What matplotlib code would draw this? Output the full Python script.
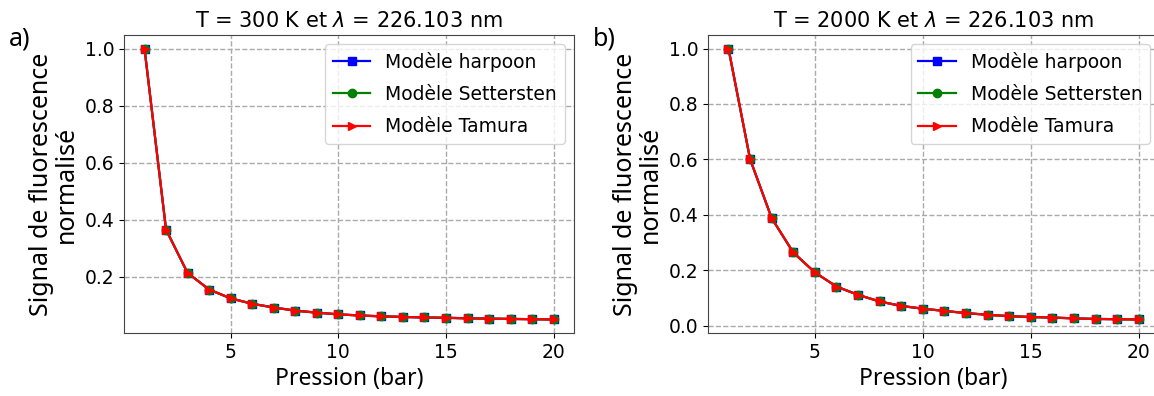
import numpy as np
import matplotlib
matplotlib.use("Agg")
import matplotlib.pyplot as plt

# pressure (bar)
pression = [1, 2, 3, 4, 5, 6, 7, 8, 9, 10, 11, 12, 13, 14, 15, 16, 17, 18, 19, 20]

# normalised fluorescence signal, T = 300 K
harpoon_300 = [1.0, 0.366, 0.214, 0.156, 0.125, 0.106, 0.093, 0.082, 0.075, 0.069,
               0.065, 0.062, 0.060, 0.058, 0.057, 0.055, 0.054, 0.053, 0.052, 0.051]
settersten_300 = [1.0, 0.366, 0.214, 0.156, 0.125, 0.106, 0.093, 0.082, 0.075, 0.069,
                  0.065, 0.062, 0.060, 0.058, 0.057, 0.055, 0.054, 0.053, 0.052, 0.051]
tamura_300 = [1.0, 0.366, 0.214, 0.156, 0.125, 0.106, 0.093, 0.082, 0.075, 0.069,
              0.065, 0.062, 0.060, 0.058, 0.057, 0.055, 0.054, 0.053, 0.052, 0.051]

# normalised fluorescence signal, T = 2000 K
harpoon_2000 = [1.0, 0.601, 0.388, 0.264, 0.192, 0.141, 0.111, 0.087, 0.071, 0.061,
                0.053, 0.045, 0.039, 0.034, 0.031, 0.029, 0.026, 0.024, 0.023, 0.022]
settersten_2000 = [1.0, 0.601, 0.388, 0.264, 0.192, 0.141, 0.111, 0.087, 0.071, 0.061,
                   0.053, 0.045, 0.039, 0.034, 0.031, 0.029, 0.026, 0.024, 0.023, 0.022]
tamura_2000 = [1.0, 0.601, 0.388, 0.264, 0.192, 0.141, 0.111, 0.087, 0.071, 0.061,
               0.053, 0.045, 0.039, 0.034, 0.031, 0.029, 0.026, 0.024, 0.023, 0.022]

titles = [r"T = 300 K et $\lambda$ = 226.103 nm", r"T = 2000 K et $\lambda$ = 226.103 nm"]
letters = ["a)", "b)"]
panels = [(harpoon_300, settersten_300, tamura_300),
          (harpoon_2000, settersten_2000, tamura_2000)]

fig = plt.figure(figsize=(11.54, 3.96), dpi=100)
positions = [[0.1075, 0.159, 0.390, 0.7525], [0.6135, 0.159, 0.391, 0.7525]]
letter_x = [0.008, 0.514]

for i in range(2):
    ax = fig.add_axes(positions[i])
    h, s, t = panels[i]
    ax.plot(pression, h, "-s", color="blue", lw=1.6, ms=6, label="Modèle harpoon")
    ax.plot(pression, s, "-o", color="green", lw=1.6, ms=6, label="Modèle Settersten")
    ax.plot(pression, t, "->", color="red", lw=1.6, ms=6, label="Modèle Tamura")
    ax.grid(True, linestyle="--", color="#aaaaaa", lw=1)
    ax.set_xticks([5, 10, 15, 20])
    ax.tick_params(labelsize=13.5)
    for sp in ax.spines.values():
        sp.set_color("#444444")
    ax.set_title(titles[i], fontsize=15)
    ax.set_xlabel("Pression (bar)", fontsize=16.5, family="Noto Sans")
    ax.set_ylabel("Signal de fluorescence\nnormalisé", fontsize=18, family="Noto Sans",
                  linespacing=1.0)
    ax.legend(loc="upper right", fontsize=13.5, labelspacing=0.7)
    fig.text(letter_x[i], 0.885, letters[i], fontsize=18, family="Noto Sans")

fig.savefig("out.png", dpi=100)
